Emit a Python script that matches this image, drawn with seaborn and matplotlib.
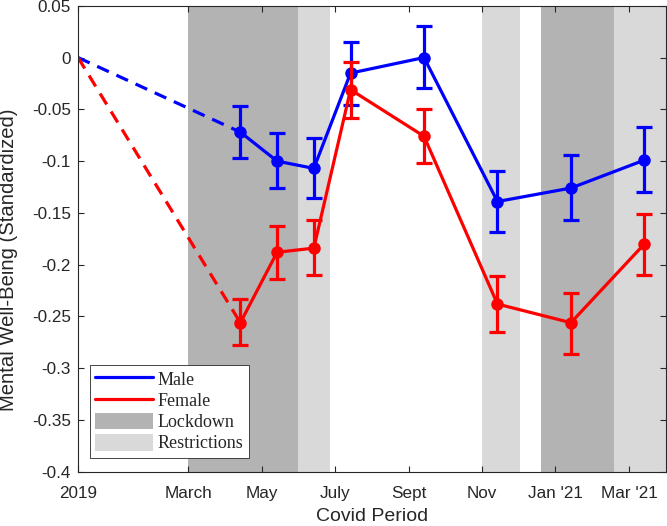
import matplotlib
matplotlib.use('Agg')
import numpy as np
import pandas as pd
import matplotlib.pyplot as plt
import seaborn as sns
from matplotlib.lines import Line2D
from matplotlib.patches import Patch

# x in months since the 2019 baseline
tick_pos = [0, 3, 5, 7, 9, 11, 13, 15]
tick_labels = ["2019", "March", "May", "July", "Sept", "Nov", "Jan '21", "Mar '21"]

wave_x = [4.42, 5.42, 6.42, 7.42, 9.42, 11.42, 13.42, 15.42]

male_y = [-0.072, -0.100, -0.107, -0.015, 0.000, -0.139, -0.126, -0.099]
male_lo = [-0.097, -0.126, -0.136, -0.046, -0.029, -0.168, -0.157, -0.130]
male_hi = [-0.047, -0.073, -0.078, 0.015, 0.030, -0.110, -0.094, -0.067]

female_y = [-0.256, -0.188, -0.184, -0.031, -0.076, -0.238, -0.256, -0.180]
female_lo = [-0.278, -0.214, -0.210, -0.058, -0.102, -0.265, -0.286, -0.210]
female_hi = [-0.233, -0.163, -0.157, -0.004, -0.050, -0.211, -0.227, -0.151]

baseline_x = 0
baseline_y = 0.0

lockdown = [(3.0, 6.0), (12.6, 14.6)]
restrictions = [(6.0, 6.85), (11.0, 12.03), (14.6, 16.0)]

sns.set_style("white")
plt.rcParams['font.family'] = ['Liberation Sans', 'DejaVu Sans']

fig = plt.figure(figsize=(6.67, 5.26), dpi=100)
ax = fig.add_axes([0.117, 0.103, 0.881, 0.886])

dark = '#b3b3b3'
light = '#d9d9d9'
for a, b in lockdown:
    ax.axvspan(a, b, color=dark, lw=0, zorder=0)
for a, b in restrictions:
    ax.axvspan(a, b, color=light, lw=0, zorder=0)

series = [("Male", male_y, male_lo, male_hi, '#0000ff'),
          ("Female", female_y, female_lo, female_hi, '#ff0000')]

for name, y, lo, hi, col in series:
    df = pd.DataFrame({"x": wave_x, "y": y})
    sns.lineplot(data=df, x="x", y="y", ax=ax, color=col, lw=2.3,
                 marker='o', markersize=9, markeredgewidth=0, zorder=3)
    dash = pd.DataFrame({"x": [baseline_x, wave_x[0]], "y": [baseline_y, y[0]]})
    sns.lineplot(data=dash, x="x", y="y", ax=ax, color=col, lw=2.3,
                 linestyle=(0, (4, 2.6)), zorder=2)
    yerr = [np.array(y) - np.array(lo), np.array(hi) - np.array(y)]
    ax.errorbar(wave_x, y, yerr=yerr, fmt='none', ecolor=col, elinewidth=2.3,
                capsize=6, capthick=2.3, zorder=3)

ax.set_xlim(0, 16)
ax.set_ylim(-0.4, 0.05)
ax.set_xticks(tick_pos)
ax.set_xticklabels(tick_labels)
yt = [0.05, 0, -0.05, -0.1, -0.15, -0.2, -0.25, -0.3, -0.35, -0.4]
ax.set_yticks(yt)
ax.set_yticklabels(["0.05", "0", "-0.05", "-0.1", "-0.15", "-0.2", "-0.25", "-0.3", "-0.35", "-0.4"])
ax.tick_params(direction='in', length=4, width=0.8, colors='#262626',
               labelsize=12.3, top=True, right=True, bottom=True, left=True)
ax.tick_params(axis='x', pad=10)
ax.tick_params(axis='y', pad=5)
for s in ax.spines.values():
    s.set_color('#262626')
    s.set_linewidth(0.8)
    s.set_zorder(5)

ax.set_xlabel("Covid Period", fontsize=14, color='#262626', labelpad=5)
ax.set_ylabel("Mental Well-Being (Standardized)", fontsize=14.6, color='#262626', labelpad=7)
ax.yaxis.set_label_coords(-0.102, 0.455)

handles = [Line2D([], [], color='#0000ff', lw=2.3),
           Line2D([], [], color='#ff0000', lw=2.3),
           Patch(facecolor=dark, edgecolor='none'),
           Patch(facecolor=light, edgecolor='none')]
leg = ax.legend(handles, ["Male", "Female", "Lockdown", "Restrictions"],
                loc='lower left', bbox_to_anchor=(0.02, 0.03), borderaxespad=0,
                prop={'family': 'Liberation Serif', 'size': 13},
                frameon=True, fancybox=False, framealpha=1, edgecolor='#262626',
                handlelength=3.2, handleheight=1.05, labelspacing=0.15,
                handletextpad=0.25, borderpad=0.3)
leg.get_frame().set_linewidth(0.6)
leg.set_zorder(6)

fig.savefig("out.png", dpi=100)
